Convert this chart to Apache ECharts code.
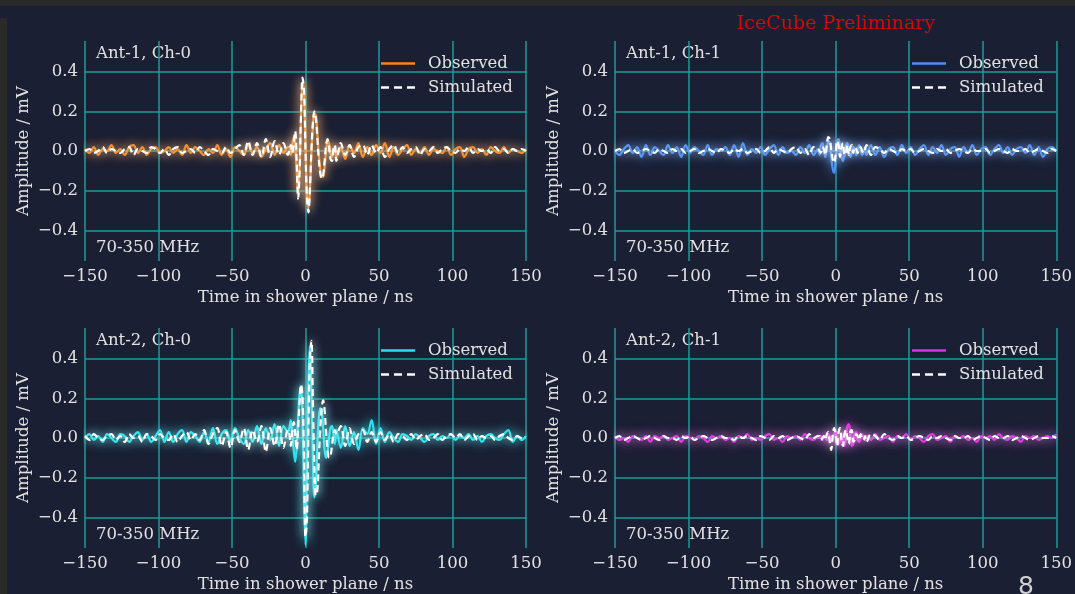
<!DOCTYPE html>
<html>
<head>
<meta charset="utf-8">
<script src="https://cdn.jsdelivr.net/npm/echarts@6/dist/echarts.min.js"></script>
<style>
  html, body { margin: 0; padding: 0; background: #1a1f33; }
  #chart { width: 1075px; height: 594px; }
</style>
</head>
<body>
<div id="chart"></div>
<script>
// time axis (ns) - coarse in the noise, 1 ns around the pulse
const TIME = [
  -150,-147,-144,-141,-138,-135,-132,-129,-126,-123,-120,-117,-114,-111,-108,-105,-102,-99,-96,-93,
  -90,-87,-84,-81,-78,-75,-72,-69,-66,-63,-60,-57,-54,-51,-48,-45,-42,-39,-36,-33,-30,-27,-24,-21,-18,-15,-12,
  -11,-10,-9,-8,-7,-6,-5,-4,-3,-2,-1,0,1,2,3,4,5,6,7,8,9,10,11,12,13,14,15,16,17,18,19,20,
  21,24,27,30,33,36,39,42,45,48,51,54,57,60,63,66,69,72,75,78,81,84,87,90,93,96,99,102,105,108,
  111,114,117,120,123,126,129,132,135,138,141,144,147,150
]

// Ant-1, Ch-0
const OBS_A1_CH0 = [
  0.01,-0.01,0.02,-0.02,0.01,0.00,0.03,-0.01,0.01,-0.02,
  0.02,0.03,-0.01,0.02,-0.02,0.01,0.02,-0.01,0.00,0.02,
  -0.01,0.01,-0.02,0.03,-0.01,0.02,0.00,-0.02,0.01,-0.01,
  0.03,-0.02,0.01,-0.03,0.02,0.00,-0.02,0.03,-0.01,0.02,
  -0.03,0.01,0.04,-0.02,0.03,-0.01,0.02,
  0.02,-0.02,0.03,0.07,0.03,-0.10,-0.22,-0.08,0.18,0.35,
  0.30,0.02,-0.22,-0.29,-0.20,-0.02,0.12,0.19,0.18,0.10,
  -0.01,-0.09,-0.13,-0.13,-0.08,0.00,0.05,0.04,-0.01,-0.03,
  0.00,0.02,
  -0.03,0.02,-0.04,0.03,-0.01,0.04,-0.03,0.02,-0.02,0.03,
  -0.01,0.04,-0.03,0.02,-0.02,0.01,0.03,-0.02,0.01,-0.01,
  0.02,-0.02,0.01,0.00,-0.01,0.02,-0.02,0.01,0.02,-0.03,
  0.01,0.02,-0.01,0.01,-0.02,0.02,0.00,-0.01,0.02,-0.01,
  0.01,0.00,-0.01,0.01
]
const SIM_A1_CH0 = [
  0.00,0.01,-0.01,0.00,0.02,-0.01,0.01,0.00,-0.01,0.01,
  0.02,-0.02,0.01,0.00,-0.01,0.02,0.01,-0.01,0.01,-0.02,
  0.01,0.02,-0.01,0.00,0.01,-0.01,0.02,0.00,-0.02,0.01,
  0.00,-0.01,0.02,-0.01,0.01,0.03,-0.02,0.05,-0.02,0.04,
  -0.03,0.06,-0.03,0.05,-0.02,0.04,-0.02,
  0.00,0.03,-0.01,0.04,0.10,-0.05,-0.24,-0.10,0.20,0.37,
  0.31,0.00,-0.24,-0.31,-0.19,0.00,0.14,0.20,0.17,0.07,
  -0.04,-0.11,-0.14,-0.12,-0.05,0.03,0.06,0.02,-0.04,-0.05,
  0.01,0.03,
  -0.05,0.04,-0.02,0.03,-0.03,0.02,0.03,-0.02,0.03,-0.01,
  0.02,-0.03,0.01,0.03,-0.01,0.02,-0.01,0.01,0.02,-0.02,
  0.01,0.00,0.02,-0.01,0.01,0.02,0.00,-0.01,0.01,0.00,
  0.02,-0.01,0.01,0.00,0.01,-0.01,0.02,0.00,0.01,-0.01,
  0.01,0.00,0.01,0.00
]

// Ant-1, Ch-1
const OBS_A1_CH1 = [
  0.00,-0.02,0.01,0.03,-0.01,0.02,-0.03,0.03,-0.02,0.02,
  0.00,-0.02,0.03,-0.01,0.02,-0.03,0.03,-0.01,0.02,0.00,
  -0.02,0.03,-0.02,0.01,0.00,0.02,-0.02,0.03,-0.03,0.04,
  -0.02,0.01,-0.01,0.02,-0.02,0.01,0.03,-0.02,0.02,-0.01,
  0.00,-0.02,0.02,-0.01,0.03,-0.02,0.01,
  -0.02,0.03,0.04,0.00,-0.03,0.01,0.05,0.04,-0.03,-0.09,
  -0.11,-0.04,0.04,0.06,0.02,-0.03,-0.05,-0.02,0.03,0.04,
  0.00,-0.03,-0.01,0.02,0.01,-0.02,0.00,0.03,0.01,-0.02,
  -0.01,0.02,
  -0.02,0.03,-0.02,0.02,-0.03,0.01,0.02,-0.02,0.03,-0.01,
  0.02,-0.02,0.01,0.03,-0.02,0.02,-0.01,0.03,-0.02,0.01,
  0.02,-0.03,0.02,-0.01,0.03,-0.02,0.01,0.02,-0.02,0.01,
  0.03,-0.01,0.02,-0.02,0.01,0.02,-0.01,0.03,-0.02,0.02,
  -0.03,0.01,0.02,0.00
]
const SIM_A1_CH1 = [
  0.00,0.01,-0.01,0.00,0.01,-0.01,0.00,0.01,0.00,-0.01,
  0.01,0.00,-0.01,0.01,0.00,0.01,-0.01,0.00,0.01,-0.01,
  0.00,0.01,0.00,-0.01,0.01,0.00,-0.01,0.01,0.00,0.01,
  -0.01,0.00,0.01,-0.01,0.00,0.02,-0.01,0.01,0.00,-0.01,
  0.01,0.02,-0.01,0.01,-0.02,0.02,0.01,
  0.00,-0.01,0.02,0.01,-0.02,0.03,0.07,0.06,0.01,-0.04,
  -0.06,-0.02,0.05,0.03,-0.03,0.02,0.04,-0.02,-0.01,0.03,
  -0.02,0.02,0.03,-0.01,0.02,0.01,-0.01,0.01,0.02,0.00,
  -0.01,0.01,
  0.03,-0.02,0.02,0.01,-0.01,0.01,0.00,-0.01,0.01,0.00,
  0.01,-0.01,0.00,0.01,0.00,-0.01,0.01,0.00,0.01,-0.01,
  0.00,0.01,0.00,-0.01,0.01,0.00,0.00,0.01,-0.01,0.00,
  0.01,0.00,-0.01,0.01,0.00,0.00,0.01,-0.01,0.00,0.01,
  0.00,-0.01,0.01,0.00
]

// Ant-2, Ch-0
const OBS_A2_CH0 = [
  0.00,0.02,-0.01,0.01,-0.02,0.02,0.00,-0.02,0.02,0.01,
  -0.02,0.01,0.03,-0.01,0.02,-0.02,0.01,0.04,-0.02,0.03,
  -0.02,0.02,0.04,-0.02,0.03,0.01,-0.02,0.03,-0.02,0.05,
  -0.03,0.02,0.04,-0.02,0.05,0.00,-0.03,0.04,-0.02,0.06,
  -0.03,0.05,-0.01,0.07,-0.04,0.06,0.03,
  0.05,0.09,0.02,-0.06,-0.12,-0.05,0.10,0.22,0.26,0.10,
  -0.30,-0.54,-0.15,0.30,0.46,0.25,-0.10,-0.30,-0.24,-0.05,
  0.10,0.15,0.14,0.05,-0.06,-0.10,-0.07,0.00,0.05,0.06,
  0.02,-0.03,
  0.04,-0.05,0.06,-0.04,0.03,-0.06,0.05,0.02,0.09,-0.03,
  0.05,-0.02,0.03,0.00,-0.02,0.02,0.01,-0.01,0.02,0.00,
  -0.02,0.01,0.02,-0.01,0.01,0.00,0.02,-0.01,0.01,0.00,
  0.02,-0.01,0.01,-0.02,0.01,0.02,0.00,-0.01,0.02,0.04,
  -0.02,0.01,-0.01,0.01
]
const SIM_A2_CH0 = [
  0.01,-0.01,0.02,0.00,-0.01,0.01,0.02,-0.01,0.01,-0.02,
  0.02,0.00,0.01,-0.02,0.02,0.01,-0.01,0.02,0.00,-0.01,
  0.02,-0.02,0.01,0.03,-0.01,0.02,-0.01,0.04,-0.03,0.02,
  0.05,-0.04,0.03,-0.05,0.04,-0.02,0.05,-0.06,0.04,-0.02,
  0.06,-0.07,0.05,-0.04,0.07,-0.05,0.04,
  0.02,-0.04,0.03,0.08,0.02,-0.06,0.05,0.18,0.27,0.20,
  -0.10,-0.50,-0.40,0.05,0.40,0.49,0.20,-0.15,-0.29,-0.27,
  -0.12,0.04,0.15,0.19,0.14,0.03,-0.06,-0.10,-0.09,-0.04,
  0.02,0.04,
  0.02,0.06,-0.04,0.05,-0.03,0.02,0.04,-0.02,0.03,-0.02,
  0.03,-0.01,0.02,-0.02,0.02,0.01,-0.01,0.02,-0.01,0.01,
  0.02,-0.01,0.00,0.02,-0.01,0.01,0.02,0.00,0.02,-0.01,
  0.01,0.02,-0.01,0.01,0.00,0.01,-0.01,0.01,0.02,0.00,
  -0.01,0.01,0.00,0.00
]

// Ant-2, Ch-1
const OBS_A2_CH1 = [
  0.01,-0.01,0.00,-0.02,0.01,0.00,-0.01,0.01,-0.02,0.01,
  0.00,0.01,-0.01,0.00,0.01,-0.02,0.01,0.00,-0.01,0.01,
  0.00,-0.02,0.01,0.00,0.01,-0.01,0.00,-0.02,0.01,0.00,
  0.02,-0.01,0.00,-0.01,0.01,0.02,-0.01,0.00,-0.02,0.01,
  0.00,0.01,-0.01,0.02,0.00,-0.01,0.01,
  0.00,0.01,-0.01,0.01,0.00,-0.01,0.02,0.01,-0.02,-0.01,
  0.02,0.03,0.00,-0.03,-0.02,0.02,-0.03,-0.04,0.01,0.06,
  0.07,0.02,-0.04,-0.03,0.02,0.03,-0.01,-0.02,0.01,0.02,
  0.00,-0.01,
  0.01,-0.01,0.02,-0.01,0.00,0.01,-0.02,0.01,0.00,0.02,
  -0.01,0.01,0.00,-0.02,0.01,0.02,-0.01,0.00,0.01,-0.02,
  0.01,0.00,0.01,-0.01,0.00,-0.02,0.01,0.00,0.01,-0.01,
  0.02,0.00,-0.01,0.01,0.00,-0.02,0.01,0.00,0.01,-0.01,
  0.00,0.01,0.00,0.02
]
const SIM_A2_CH1 = [
  0.00,0.01,-0.01,0.00,0.01,0.00,-0.01,0.00,0.01,0.00,
  -0.01,0.01,0.00,0.00,-0.01,0.01,0.00,0.01,-0.01,0.00,
  0.01,0.00,-0.01,0.00,0.01,0.00,0.00,-0.01,0.01,0.00,
  0.01,0.00,-0.01,0.01,0.00,-0.01,0.01,0.00,0.01,-0.01,
  0.00,0.01,0.00,-0.01,0.02,0.00,0.01,
  0.01,-0.01,0.00,0.01,-0.01,0.02,0.03,-0.02,-0.06,0.01,
  0.05,0.02,-0.04,0.03,0.05,-0.01,-0.04,0.02,0.04,0.00,
  -0.03,0.03,0.04,-0.02,-0.01,0.02,0.01,-0.01,0.02,0.00,
  -0.01,0.01,
  -0.02,0.02,0.01,-0.01,0.02,0.00,-0.01,0.01,0.00,0.01,
  -0.01,0.00,0.01,0.00,-0.01,0.01,0.00,0.01,0.00,-0.01,
  0.01,0.00,0.00,0.01,-0.01,0.00,0.01,0.00,-0.01,0.01,
  0.00,0.00,0.01,-0.01,0.00,0.01,0.00,-0.01,0.00,0.01,
  0.00,0.00,0.01,0.00
]

const PANEL_NAMES = ['Ant-1, Ch-0', 'Ant-1, Ch-1', 'Ant-2, Ch-0', 'Ant-2, Ch-1']
const BAND_LABEL = '70-350 MHz'
const OBS_COLORS = ['#f5861f', '#4f8ff2', '#22e3ee', '#e22be2']
const OBSERVED = [OBS_A1_CH0, OBS_A1_CH1, OBS_A2_CH0, OBS_A2_CH1]
const SIMULATED = [SIM_A1_CH0, SIM_A1_CH1, SIM_A2_CH0, SIM_A2_CH1]

// layout of the 2x2 panels
const GRIDS = [
  { left: 85, top: 41, width: 441, height: 220 },
  { left: 615, top: 41, width: 442, height: 220 },
  { left: 85, top: 328, width: 441, height: 220 },
  { left: 615, top: 328, width: 442, height: 220 },
]

const SERIF = 'DejaVu Serif'
const FS = 16.5
const TEXT = '#e2e2e2'
const GRIDLINE = '#1f9b9b'
const SOLID_ICON = 'path://M0,0h34v2.4h-34z'
const DASH_ICON = 'path://M0,0h8v2.4h-8z M13,0h8v2.4h-8z M26,0h8v2.4h-8z'
const minus = s => String(s).replace('-', '\u2212')

const chart = echarts.init(document.getElementById('chart'))

const xAxis = GRIDS.map((g, i) => ({
  type: 'value', gridIndex: i, min: -150, max: 150, interval: 50,
  name: 'Time in shower plane / ns', nameLocation: 'middle', nameGap: 28,
  nameTextStyle: { color: TEXT, fontFamily: SERIF, fontSize: FS },
  axisLine: { show: false }, axisTick: { show: false },
  axisLabel: { color: TEXT, fontFamily: SERIF, fontSize: FS, margin: 7, formatter: v => minus(v) },
  splitLine: { show: true, lineStyle: { color: GRIDLINE, width: 1.5 } },
}))

const yAxis = GRIDS.map((g, i) => ({
  type: 'value', gridIndex: i, min: -0.555, max: 0.555, splitNumber: 5,
  name: 'Amplitude / mV', nameLocation: 'middle', nameGap: 53, nameRotate: 90,
  nameTextStyle: { color: TEXT, fontFamily: SERIF, fontSize: FS },
  axisLine: { show: false }, axisTick: { show: false },
  axisLabel: { color: TEXT, fontFamily: SERIF, fontSize: FS, margin: 7,
    showMinLabel: false, showMaxLabel: false, formatter: v => minus(v.toFixed(1)) },
  splitLine: { show: true, showMinLine: false, showMaxLine: false, lineStyle: { color: GRIDLINE, width: 1.5 } },
}))

const series = []
const legend = []
GRIDS.forEach((g, i) => {
  const c = OBS_COLORS[i]
  series.push({
    name: 'Observed#' + i, type: 'line', xAxisIndex: i, yAxisIndex: i,
    data: TIME.map((t, k) => [t, OBSERVED[i][k]]),
    showSymbol: false, symbol: 'none', smooth: 0.35,
    lineStyle: { color: c, width: 2.2, shadowColor: c, shadowBlur: 12 },
    itemStyle: { color: c },
  })
  series.push({
    name: 'Simulated#' + i, type: 'line', xAxisIndex: i, yAxisIndex: i,
    data: TIME.map((t, k) => [t, SIMULATED[i][k]]),
    showSymbol: false, symbol: 'none', smooth: 0.35,
    lineStyle: { color: '#ffffff', width: 2.2, type: [7, 4], shadowColor: 'rgba(255,255,255,0.85)', shadowBlur: 10 },
    itemStyle: { color: '#ffffff' },
  })
  legend.push({
    data: [
      { name: 'Observed#' + i, icon: SOLID_ICON },
      { name: 'Simulated#' + i, icon: DASH_ICON },
    ],
    orient: 'vertical', left: g.left + g.width - 150, top: g.top + 9,
    itemWidth: 34, itemHeight: 2.4, itemGap: 7,
    formatter: n => n.split('#')[0],
    textStyle: { color: TEXT, fontFamily: SERIF, fontSize: FS, padding: [0, 0, 0, 8] },
    selectedMode: false,
  })
})

const graphic = [
  { type: 'rect', shape: { x: 0, y: 0, width: 1075, height: 6 }, style: { fill: '#2a2a2a' }, silent: true },
  { type: 'rect', shape: { x: 0, y: 18, width: 7, height: 576 }, style: { fill: '#2a2a2a' }, silent: true },
  { type: 'text', x: 836, y: 24, style: { text: 'IceCube Preliminary', fill: '#d10a0a', font: '19px "DejaVu Serif"', textAlign: 'center', textVerticalAlign: 'middle' } },
  { type: 'text', x: 1026, y: 587, style: { text: '8', fill: '#d0d0d0', font: '25px "DejaVu Sans"', textAlign: 'center', textVerticalAlign: 'middle' } },
]
GRIDS.forEach((g, i) => {
  graphic.push({ type: 'text', x: g.left + 11, y: g.top + 13,
    style: { text: PANEL_NAMES[i], fill: TEXT, font: FS + 'px "DejaVu Serif"', textVerticalAlign: 'middle' } })
  graphic.push({ type: 'text', x: g.left + 11, y: g.top + 207,
    style: { text: BAND_LABEL, fill: TEXT, font: FS + 'px "DejaVu Serif"', textVerticalAlign: 'middle' } })
})

chart.setOption({
  backgroundColor: '#1a1f33',
  animation: false,
  grid: GRIDS,
  xAxis,
  yAxis,
  legend,
  series,
  graphic,
})
</script>
</body>
</html>
